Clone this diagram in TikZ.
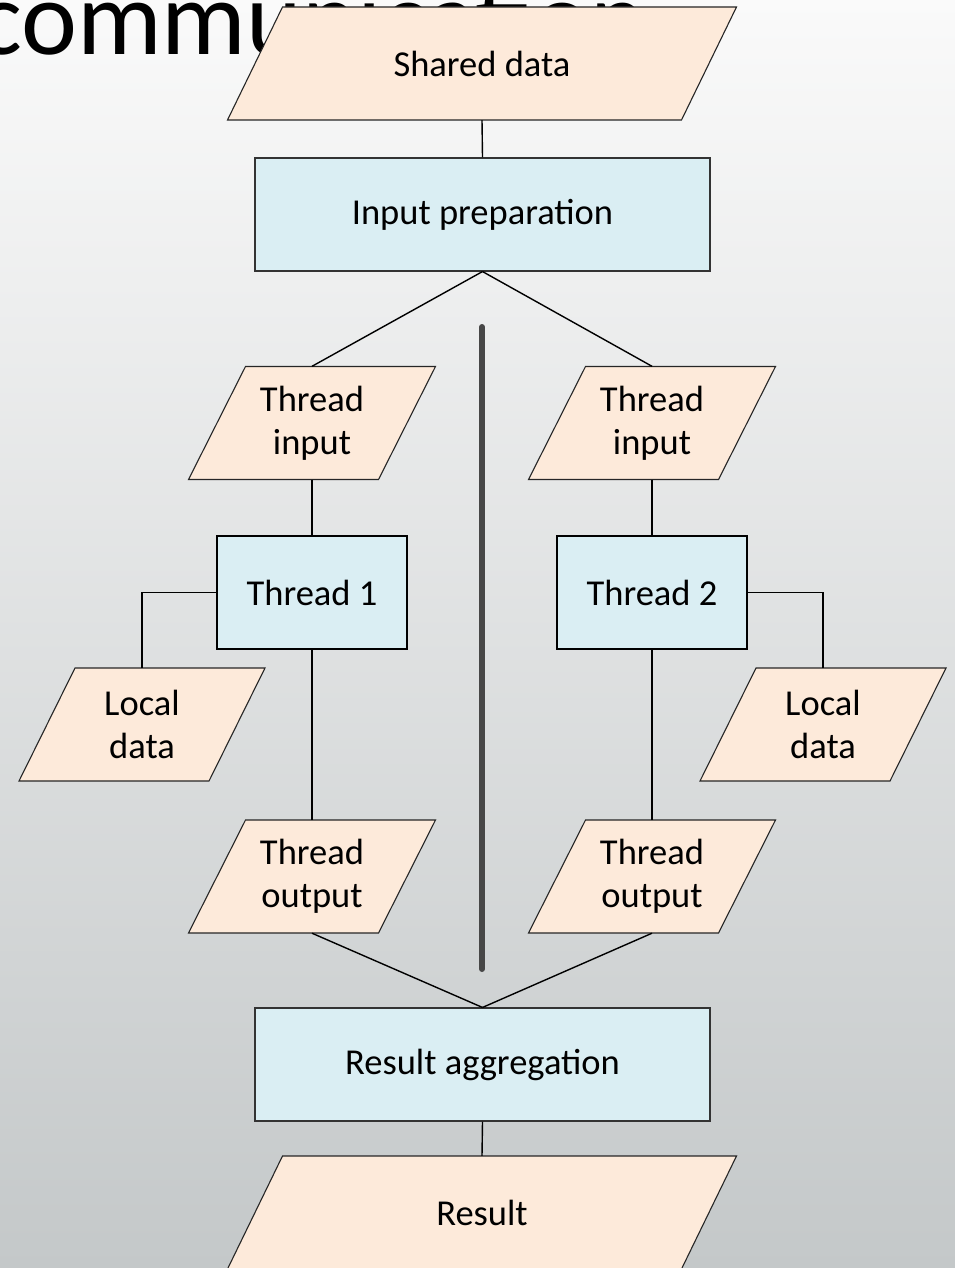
\documentclass[tikz,border=0pt]{standalone}
\usepackage{fontspec}
\setmainfont{Carlito}
\usetikzlibrary{calc}
\definecolor{bgtop}{HTML}{FAFAFA}
\definecolor{bgmid}{HTML}{E8E9EA}
\definecolor{bgbot}{HTML}{C4C8C9}
\definecolor{parafill}{HTML}{FDEADA}
\definecolor{boxfill}{HTML}{DAEEF3}
\definecolor{divider}{HTML}{474747}
\tikzset{
  txt/.style={font=\fontsize{36.5}{43}\selectfont, align=center, text=black},
  parashape/.style={fill=parafill, draw=black!85, line width=1.1pt, line join=miter},
  parabox/.style={txt, draw=none, inner sep=0pt, minimum height=113pt},
  plainbox/.style={txt, rectangle, fill=boxfill, draw=black!80, line width=1.1pt, inner sep=0pt, minimum width=455pt, minimum height=113pt},
  threadbox/.style={txt, rectangle, fill=boxfill, draw=black, line width=2.4pt, inner sep=0pt, minimum width=190pt, minimum height=113pt},
  conn/.style={draw=black, line width=1.4pt},
}
% #1 name, #2 center, #3 top width, #4 half slant, #5 text
\newcommand\paranode[5]{%
  \path (#2) coordinate (#1-c);
  \path[parashape] ($(#1-c)+(-#3/2+#4,-56.5)$) -- ($(#1-c)+(#3/2+#4,-56.5)$)
     -- ($(#1-c)+(#3/2-#4,56.5)$) -- ($(#1-c)+(-#3/2-#4,56.5)$) -- cycle;
  \node[parabox, minimum width=#3pt] (#1) at (#1-c) {#5};
}
\begin{document}
\begin{tikzpicture}[x=1pt,y=-1pt]
\useasboundingbox (0,0) rectangle (955,1268);
\clip (0,0) rectangle (955,1268);
\shade[top color=bgtop, middle color=bgmid, bottom color=bgbot] (0,0) rectangle (955,1268);
% title text behind
\node[anchor=base west, inner sep=0pt, font=\fontsize{106}{120}\selectfont, text=black] (title) at (-23,55) {communication};
% shapes
\paranode{sd}{482,63.5}{454}{27.5}{Shared data}
\node[plainbox] (ip) at (482.5,214.5) {Input preparation};
\paranode{tia}{312,423}{190}{28.5}{Thread\\input}
\paranode{tib}{652,423}{190}{28.5}{Thread\\input}
\node[threadbox] (ta) at (312,592.5) {Thread 1};
\node[threadbox] (tb) at (652,592.5) {Thread 2};
\paranode{lda}{142,724.5}{190}{28}{Local\\data}
\paranode{ldb}{823,724.5}{190}{28}{Local\\data}
\paranode{toa}{312,876.5}{190}{28.5}{Thread\\output}
\paranode{tob}{652,876.5}{190}{28.5}{Thread\\output}
\node[plainbox] (ra) at (482.5,1064.5) {Result aggregation};
\paranode{res}{482,1212.5}{454}{27.5}{Result}
% divider
\coordinate (divtop) at (482,327);
\coordinate (divbot) at (482,969);
\draw[divider, line width=6pt, line cap=round] (divtop) -- (divbot);
% connectors
\draw[conn] (sd.south) -- (ip.north);
\draw[conn] (ip.south) -- (tia.north);
\draw[conn] (ip.south) -- (tib.north);
\draw[conn] (tia.south) -- (ta.north);
\draw[conn] (tib.south) -- (tb.north);
\draw[conn] (ta.west) -| (lda.north);
\draw[conn] (tb.east) -| (ldb.north);
\draw[conn] (ta.south) -- (toa.north);
\draw[conn] (tb.south) -- (tob.north);
\draw[conn] (toa.south) -- (ra.north);
\draw[conn] (tob.south) -- (ra.north);
\draw[conn] (ra.south) -- (res.north);
\end{tikzpicture}
\end{document}
